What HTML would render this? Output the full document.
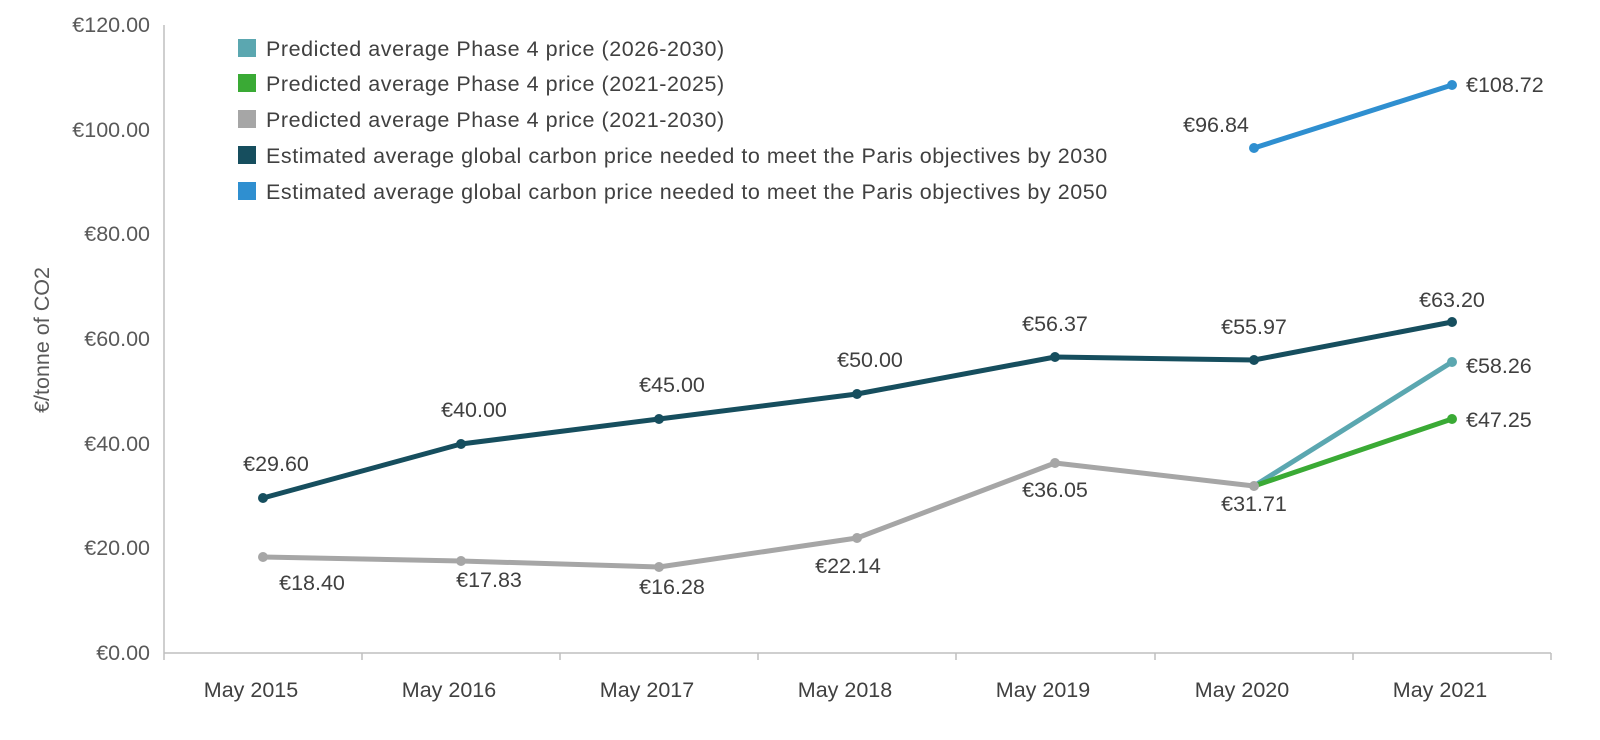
<!DOCTYPE html>
<html><head><meta charset="utf-8"><style>
html,body{margin:0;padding:0;background:#fff;}
svg{display:block;font-family:"Liberation Sans",Arial,sans-serif;}
</style></head><body>
<svg width="1600" height="740" viewBox="0 0 1600 740" xmlns="http://www.w3.org/2000/svg">
<g fill="#595959" font-size="21.5" text-anchor="end">
<text x="150" y="32">€120.00</text>
<text x="150" y="137">€100.00</text>
<text x="150" y="241">€80.00</text>
<text x="150" y="346">€60.00</text>
<text x="150" y="451">€40.00</text>
<text x="150" y="555">€20.00</text>
<text x="150" y="660">€0.00</text>
</g>
<text transform="translate(49,340) rotate(-90)" text-anchor="middle" fill="#595959" font-size="21.5">€/tonne of CO2</text>
<g stroke="#bfbfbf" stroke-width="1.5">
<line x1="164" y1="25" x2="164" y2="660"/>
<line x1="164" y1="653" x2="1551" y2="653"/>
<line x1="362" y1="653" x2="362" y2="660"/><line x1="560" y1="653" x2="560" y2="660"/>
<line x1="758" y1="653" x2="758" y2="660"/><line x1="956" y1="653" x2="956" y2="660"/>
<line x1="1155" y1="653" x2="1155" y2="660"/><line x1="1353" y1="653" x2="1353" y2="660"/>
<line x1="1551" y1="653" x2="1551" y2="660"/>
</g>
<g fill="#404040" font-size="21.5" text-anchor="middle">
<text x="251" y="697">May 2015</text><text x="449" y="697">May 2016</text>
<text x="647" y="697">May 2017</text><text x="845" y="697">May 2018</text>
<text x="1043" y="697">May 2019</text><text x="1242" y="697">May 2020</text>
<text x="1440" y="697">May 2021</text>
</g>
<g fill="none" stroke-width="5" stroke-linejoin="round" stroke-linecap="round">
<polyline stroke="#a6a6a6" points="263,557 461,561 659,567 857,538 1055,463 1254,486"/>
<polyline stroke="#5ba7b0" points="1254,486 1452,362"/>
<polyline stroke="#3aaa35" points="1254,486 1452,419"/>
<polyline stroke="#164e5e" points="263,498 461,444 659,419 857,394 1055,357 1254,360 1452,322"/>
<polyline stroke="#2f8fd0" points="1254,148 1452,85"/>
</g>
<g fill="#a6a6a6"><circle cx="263" cy="557" r="5"/><circle cx="461" cy="561" r="5"/><circle cx="659" cy="567" r="5"/><circle cx="857" cy="538" r="5"/><circle cx="1055" cy="463" r="5"/><circle cx="1254" cy="486" r="5"/></g>
<circle cx="1452" cy="362" r="5" fill="#5ba7b0"/>
<circle cx="1452" cy="419" r="5" fill="#3aaa35"/>
<g fill="#164e5e"><circle cx="263" cy="498" r="5"/><circle cx="461" cy="444" r="5"/><circle cx="659" cy="419" r="5"/><circle cx="857" cy="394" r="5"/><circle cx="1055" cy="357" r="5"/><circle cx="1254" cy="360" r="5"/><circle cx="1452" cy="322" r="5"/></g>
<g fill="#2f8fd0"><circle cx="1254" cy="148" r="5"/><circle cx="1452" cy="85" r="5"/></g>
<g fill="#404040" font-size="21.5" text-anchor="middle">
<text x="276" y="471">€29.60</text><text x="474" y="417">€40.00</text>
<text x="672" y="392">€45.00</text><text x="870" y="367">€50.00</text>
<text x="1055" y="331">€56.37</text><text x="1254" y="334">€55.97</text>
<text x="1452" y="307">€63.20</text>
<text x="312" y="590">€18.40</text><text x="489" y="587">€17.83</text>
<text x="672" y="594">€16.28</text><text x="848" y="573">€22.14</text>
<text x="1055" y="497">€36.05</text><text x="1254" y="511">€31.71</text>
<text x="1216" y="132">€96.84</text>
</g>
<g fill="#404040" font-size="21.5">
<text x="1466" y="92">€108.72</text>
<text x="1466" y="373">€58.26</text>
<text x="1466" y="427">€47.25</text>
</g>
<g font-size="21.5" fill="#404040" letter-spacing="0.55">
<rect x="238" y="39" width="18" height="18" fill="#5ba7b0"/><text x="266" y="56">Predicted average Phase 4 price (2026-2030)</text>
<rect x="238" y="74" width="18" height="18" fill="#3aaa35"/><text x="266" y="91">Predicted average Phase 4 price (2021-2025)</text>
<rect x="238" y="110" width="18" height="18" fill="#a6a6a6"/><text x="266" y="127">Predicted average Phase 4 price (2021-2030)</text>
<rect x="238" y="146" width="18" height="18" fill="#164e5e"/><text x="266" y="163">Estimated average global carbon price needed to meet the Paris objectives by 2030</text>
<rect x="238" y="182" width="18" height="18" fill="#2f8fd0"/><text x="266" y="199">Estimated average global carbon price needed to meet the Paris objectives by 2050</text>
</g>
</svg>
</body></html>
